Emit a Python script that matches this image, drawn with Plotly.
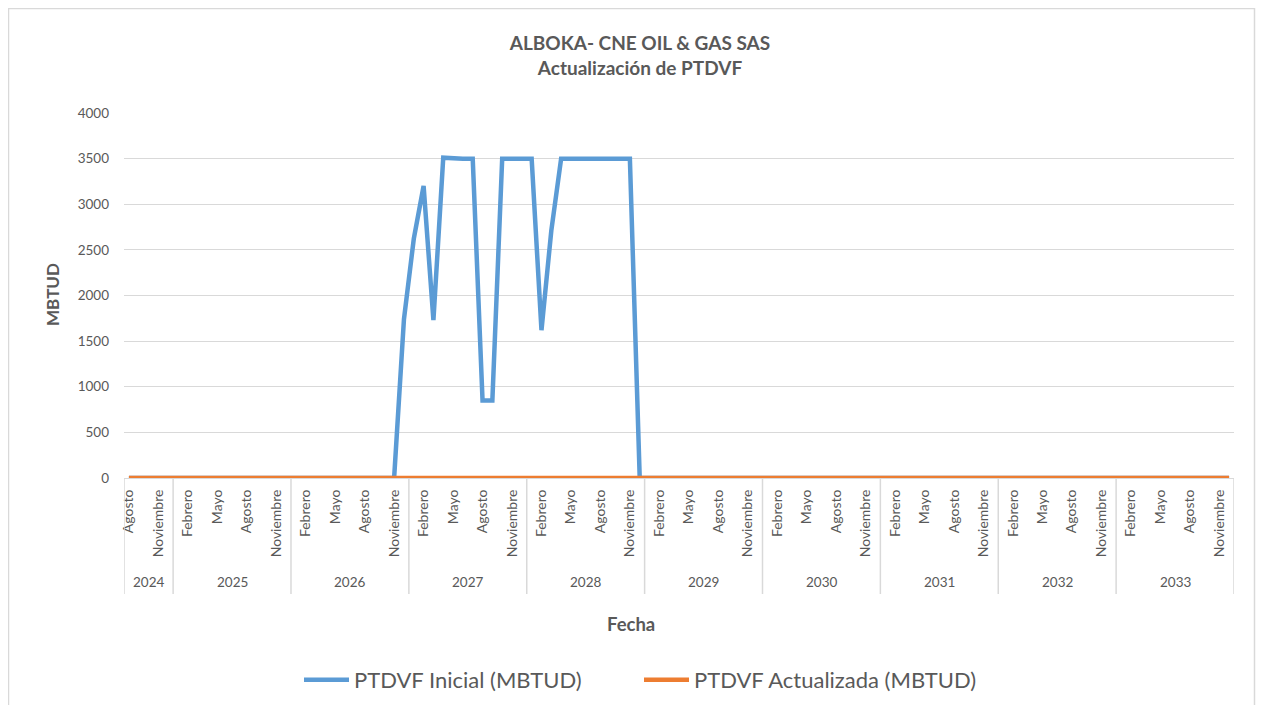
import plotly.graph_objects as go

# ---------------- data ----------------
YEARS = [2024, 2025, 2026, 2027, 2028, 2029, 2030, 2031, 2032, 2033]
MONTH_NAMES = ["Enero", "Febrero", "Marzo", "Abril", "Mayo", "Junio", "Julio",
               "Agosto", "Septiembre", "Octubre", "Noviembre", "Diciembre"]
FIRST_MONTH = 8          # series start in Agosto 2024
LABELLED_MONTHS = ["Febrero", "Mayo", "Agosto", "Noviembre"]

# PTDVF Inicial (MBTUD), month by month from Ago-2024 to Dic-2033
inicial_2024 = [0, 0, 0, 0, 0]
inicial_2025 = [0, 0, 0, 0, 0, 0, 0, 0, 0, 0, 0, 0]
inicial_2026 = [0, 0, 0, 0, 0, 0, 0, 0, 0, 0, 0, 1740]
inicial_2027 = [2620, 3200, 1730, 3510, 3500, 3500, 3500, 850, 850, 3500, 3500, 3500]
inicial_2028 = [3500, 1620, 2710, 3500, 3500, 3500, 3500, 3500, 3500, 3500, 3500, 0]
inicial_2029 = [0, 0, 0, 0, 0, 0, 0, 0, 0, 0, 0, 0]
inicial_2030 = [0, 0, 0, 0, 0, 0, 0, 0, 0, 0, 0, 0]
inicial_2031 = [0, 0, 0, 0, 0, 0, 0, 0, 0, 0, 0, 0]
inicial_2032 = [0, 0, 0, 0, 0, 0, 0, 0, 0, 0, 0, 0]
inicial_2033 = [0, 0, 0, 0, 0, 0, 0, 0, 0, 0, 0, 0]

# PTDVF Actualizada (MBTUD)
actualizada_2024 = [0, 0, 0, 0, 0]
actualizada_2025 = [0, 0, 0, 0, 0, 0, 0, 0, 0, 0, 0, 0]
actualizada_2026 = [0, 0, 0, 0, 0, 0, 0, 0, 0, 0, 0, 0]
actualizada_2027 = [0, 0, 0, 0, 0, 0, 0, 0, 0, 0, 0, 0]
actualizada_2028 = [0, 0, 0, 0, 0, 0, 0, 0, 0, 0, 0, 0]
actualizada_2029 = [0, 0, 0, 0, 0, 0, 0, 0, 0, 0, 0, 0]
actualizada_2030 = [0, 0, 0, 0, 0, 0, 0, 0, 0, 0, 0, 0]
actualizada_2031 = [0, 0, 0, 0, 0, 0, 0, 0, 0, 0, 0, 0]
actualizada_2032 = [0, 0, 0, 0, 0, 0, 0, 0, 0, 0, 0, 0]
actualizada_2033 = [0, 0, 0, 0, 0, 0, 0, 0, 0, 0, 0, 0]

inicial = (inicial_2024 + inicial_2025 + inicial_2026 + inicial_2027 + inicial_2028 +
           inicial_2029 + inicial_2030 + inicial_2031 + inicial_2032 + inicial_2033)
actualizada = (actualizada_2024 + actualizada_2025 + actualizada_2026 + actualizada_2027 +
               actualizada_2028 + actualizada_2029 + actualizada_2030 + actualizada_2031 +
               actualizada_2032 + actualizada_2033)

TITLE = "ALBOKA- CNE OIL & GAS SAS<br>Actualización de PTDVF"
Y_TITLE = "MBTUD"
X_TITLE = "Fecha"
NAME_INICIAL = "PTDVF Inicial (MBTUD)"
NAME_ACTUALIZADA = "PTDVF Actualizada (MBTUD)"

# ---------------- categories ----------------
periods, period_year, period_month = [], [], []
for y in YEARS:
    start = FIRST_MONTH if y == YEARS[0] else 1
    for m in range(start, 13):
        periods.append(f"{y}-{m:02d}")
        period_year.append(y)
        period_month.append(MONTH_NAMES[m - 1])

tickvals = [p for p, mn in zip(periods, period_month) if mn in LABELLED_MONTHS]
ticktext = [mn for mn in period_month if mn in LABELLED_MONTHS]

# ---------------- style ----------------
FONT = "Lato, 'Open Sans', sans-serif"
TXT = "#595959"
GRID = "#D9D9D9"
BLUE = "#5B9BD5"
ORANGE = "#ED7D31"

# the page body has an 8px margin: the figure starts at screen (8, 8)
OFF = 8
W, H = 1264 - 2 * OFF, 713 - 2 * OFF
PL, PR, PT, PB = 124, 1234, 113, 478          # plot area, screen pixels
ML, MT = PL - OFF, PT - OFF
MR = W - ML - (PR - PL)
MB = H - MT - (PB - PT)
PW, PH = PR - PL, PB - PT


def px_x(sx):
    return (sx - PL) / PW


def px_y(sy):
    return (PB - sy) / PH


def cont_y(sy):
    return 1 - (sy - OFF) / H


fig = go.Figure()
fig.add_trace(go.Scatter(x=periods, y=inicial, mode="lines", name=NAME_INICIAL,
                         line=dict(color=BLUE, width=4.5), cliponaxis=False))
fig.add_trace(go.Scatter(x=periods, y=actualizada, mode="lines", name=NAME_ACTUALIZADA,
                         line=dict(color=ORANGE, width=4.5), cliponaxis=False))

shapes = []
annotations = []
# year separators and year labels (positions derived from categories)
idx = 0
for y in YEARS:
    n = period_year.count(y)
    shapes.append(dict(type="line", xref="x", yref="paper", x0=idx - 0.5, x1=idx - 0.5,
                       y0=0, y1=px_y(594), line=dict(color=GRID, width=1.5)))
    annotations.append(dict(xref="x", yref="paper", x=idx - 0.5 + n / 2, y=px_y(582),
                            xanchor="center", yanchor="middle",
                            text=str(y), showarrow=False,
                            font=dict(family=FONT, size=13.5, color=TXT)))
    idx += n
shapes.append(dict(type="line", xref="x", yref="paper", x0=idx - 0.5, x1=idx - 0.5,
                   y0=0, y1=px_y(594), line=dict(color=GRID, width=1.5)))
# outer chart border
shapes.append(dict(type="rect", xref="paper", yref="paper", x0=px_x(8.5), x1=px_x(1254.5),
                   y0=px_y(8.5), y1=px_y(730), line=dict(color=GRID, width=1.5),
                   fillcolor="rgba(0,0,0,0)", layer="below"))

annotations.append(dict(xref="paper", yref="paper", x=px_x(631), y=px_y(624),
                        xanchor="center", yanchor="middle",
                        text=f"<b>{X_TITLE}</b>", showarrow=False,
                        font=dict(family=FONT, size=18.5, color=TXT)))
annotations.append(dict(xref="paper", yref="paper", x=px_x(52), y=px_y(295),
                        xanchor="center", yanchor="middle",
                        text=f"<b>{Y_TITLE}</b>", showarrow=False, textangle=-90,
                        font=dict(family=FONT, size=17, color=TXT)))

fig.update_layout(
    width=W, height=H,
    margin=dict(l=ML, r=MR, t=MT, b=MB, autoexpand=False),
    paper_bgcolor="white", plot_bgcolor="white",
    title=dict(text=f"<b>{TITLE}</b>", x=(640 - OFF) / W, xref="container", xanchor="center",
               y=cont_y(50), yref="container", yanchor="middle",
               font=dict(family=FONT, size=19, color=TXT)),
    showlegend=True,
    legend=dict(orientation="h", xref="paper", yref="container", x=px_x(639), xanchor="center",
                y=cont_y(680), yanchor="middle", font=dict(family=FONT, size=22, color=TXT),
                itemwidth=45, tracegroupgap=0, entrywidth=280),
    shapes=shapes,
    annotations=annotations,
    xaxis=dict(type="category", categoryorder="array", categoryarray=periods,
               range=[-0.5, len(periods) - 0.5], automargin=False,
               tickmode="array", tickvals=tickvals, ticktext=ticktext, tickangle=-90,
               showgrid=False, zeroline=False, showline=True, linecolor=GRID,
               ticks="", ticklabelstandoff=5,
               tickfont=dict(family=FONT, size=14, color=TXT)),
    yaxis=dict(range=[0, 4000], dtick=500, tick0=0, showgrid=True, gridcolor=GRID,
               gridwidth=1.3, zeroline=False, showline=False, ticks="", automargin=False,
               ticklabelstandoff=14,
               tickfont=dict(family=FONT, size=13.5, color=TXT)),
)

fig.write_html("out.html")
